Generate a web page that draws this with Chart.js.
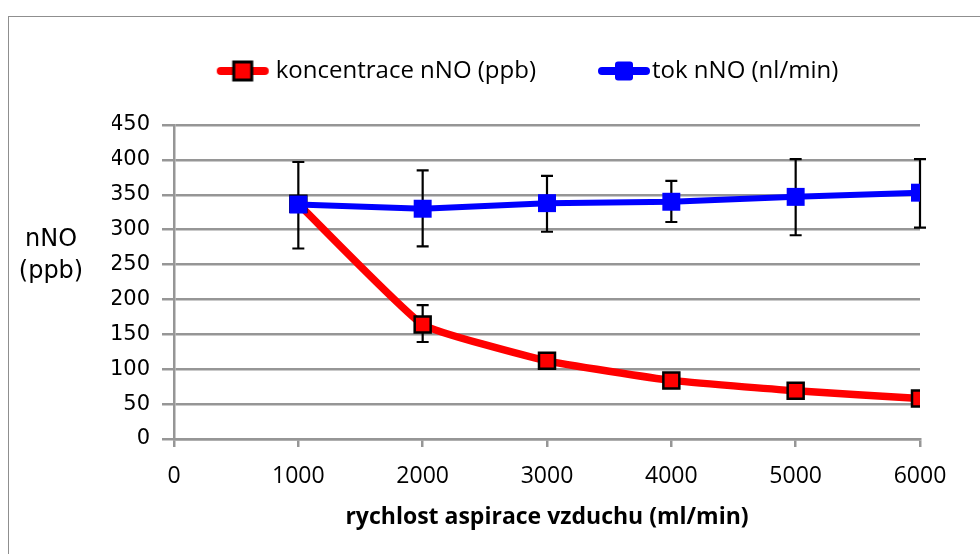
<!DOCTYPE html>
<html>
<head>
<meta charset="utf-8">
<title>nNO</title>
<script src="https://cdn.jsdelivr.net/npm/chart.js@4.4.1/dist/chart.umd.min.js"></script>
<style>
  html, body { margin: 0; padding: 0; background: #fff; }
  #wrap { position: relative; width: 980px; height: 554px; overflow: hidden; }
  #frame {
    position: absolute; left: 8px; top: 16px; width: 1000px; height: 600px;
    border-top: 1.5px solid #8f8f8f; border-left: 1.5px solid #8f8f8f;
  }
  #ytitle {
    position: absolute; left: 0; top: 222px; width: 102px;
    text-align: center; font: 24px "DejaVu Sans", sans-serif; line-height: 32px; color: #000;
  }
  canvas { position: absolute; left: 0; top: 0; }
</style>
</head>
<body>
<div id="wrap">
  <div id="frame"></div>
  <canvas id="chart" width="980" height="554"></canvas>
  <div id="ytitle">nNO<br>(ppb)</div>
</div>
<script>
  // air aspiration rate (ml/min)
  const X_VALUES = [1000, 2000, 3000, 4000, 5000, 6000];

  // koncentrace nNO (ppb)
  const KONC = [337, 164, 112, 84, 69, 58];
  const KONC_LOW = [null, 139, null, null, null, null];
  const KONC_HIGH = [null, 192, null, null, null, null];

  // tok nNO (nl/min)
  const TOK = [336, 330, 338, 340, 347, 353];
  const TOK_LOW = [273, 276, 297, 311, 292, 303];
  const TOK_HIGH = [397, 385, 377, 370, 401, 401];

  const LABELS = ['koncentrace nNO (ppb)', 'tok nNO (nl/min)'];
  const X_TITLE = 'rychlost aspirace vzduchu (ml/min)';

  const COLORS = {
    red: '#ff0000',
    blue: '#0000ff',
    grid: '#969696',
    err: '#000000',
  };

  // Excel-style legend key: line segment with the marker on it.
  // shift moves the drawing right inside the (wider) image
  function legendIcon(color, border, shift) {
    const c = document.createElement('canvas');
    c.width = 100; c.height = 24;
    const g = c.getContext('2d');
    const cx = 50 + shift;
    g.strokeStyle = color;
    g.lineWidth = 8;
    g.lineCap = 'round';
    g.beginPath(); g.moveTo(cx - 22, 12); g.lineTo(cx + 22, 12); g.stroke();
    g.fillStyle = color;
    if (border) {
      g.fillRect(cx - 9, 3, 18, 18);
      g.lineWidth = 3;
      g.strokeStyle = border;
      g.strokeRect(cx - 9, 3, 18, 18);
    } else {
      g.beginPath();
      g.roundRect(cx - 9, 2.5, 18, 19, 3);
      g.fill();
    }
    return c;
  }

  const errorBars = {
    id: 'errorBars',
    beforeDatasetsDraw(chart) {
      const { ctx, scales: { x, y } } = chart;
      ctx.save();
      ctx.strokeStyle = COLORS.err;
      ctx.lineWidth = 2.2;
      [[KONC_LOW, KONC_HIGH], [TOK_LOW, TOK_HIGH]].forEach(([low, high]) => {
        X_VALUES.forEach((xv, i) => {
          if (low[i] == null) return;
          const px = x.getPixelForValue(xv);
          const y1 = y.getPixelForValue(low[i]);
          const y2 = y.getPixelForValue(high[i]);
          ctx.beginPath();
          ctx.moveTo(px, y1); ctx.lineTo(px, y2);
          ctx.moveTo(px - 6, y1); ctx.lineTo(px + 6, y1);
          ctx.moveTo(px - 6, y2); ctx.lineTo(px + 6, y2);
          ctx.stroke();
        });
      });
      ctx.restore();
    }
  };

  // fixed legend height so the plot starts where the reference does
  const legendHeight = {
    id: 'legendHeight',
    beforeInit(chart) {
      const fit = chart.legend.fit;
      chart.legend.fit = function () {
        fit.call(this);
        this.height = 100;
      };
    }
  };

  const icons = [legendIcon(COLORS.red, '#000', 14), legendIcon(COLORS.blue, null, 19)];

  new Chart(document.getElementById('chart'), {
    type: 'line',
    data: {
      datasets: [
        {
          label: LABELS[0],
          data: X_VALUES.map((x, i) => ({ x, y: KONC[i] })),
          borderColor: COLORS.red,
          backgroundColor: COLORS.red,
          borderWidth: 7.5,
          pointStyle: 'rect',
          pointRadius: 11.3,
          pointBorderColor: '#000',
          pointBorderWidth: 2.5,
          pointBackgroundColor: COLORS.red,
          tension: 0.12,
          order: 1,
        },
        {
          label: LABELS[1],
          data: X_VALUES.map((x, i) => ({ x, y: TOK[i] })),
          borderColor: COLORS.blue,
          backgroundColor: COLORS.blue,
          borderWidth: 6,
          pointStyle: 'rect',
          pointRadius: 12.7,
          pointBorderWidth: 0,
          pointBackgroundColor: COLORS.blue,
          tension: 0,
          order: 0,
        },
      ],
    },
    options: {
      responsive: false,
      animation: false,
      events: [],
      // left padding only moves the legend; y axis width makes up the rest
      layout: { padding: { top: 25, left: 112, right: 60, bottom: 0 } },
      plugins: {
        legend: {
          position: 'top',
          labels: {
            usePointStyle: true,
            pointStyleWidth: 70,
            padding: 34,
            color: '#000',
            font: { family: '"Open Sans", sans-serif', size: 24 },
            generateLabels: () => LABELS.map((text, i) => ({
              text,
              pointStyle: icons[i],
              fillStyle: 'transparent',
              strokeStyle: 'transparent',
              lineWidth: 0,
              hidden: false,
              datasetIndex: i,
            })),
          },
        },
        tooltip: { enabled: false },
      },
      scales: {
        x: {
          type: 'linear',
          min: 0,
          max: 6000,
          afterFit: s => { s.height = 115; },
          grid: { drawOnChartArea: false, drawTicks: true, tickLength: 8, color: COLORS.grid, lineWidth: 2.5 },
          border: { display: true, color: COLORS.grid, width: 2.5 },
          ticks: {
            stepSize: 1000,
            padding: 16,
            color: '#000',
            font: { family: '"Open Sans", sans-serif', size: 23 },
            callback: v => String(v),
          },
          title: {
            display: true,
            text: X_TITLE,
            color: '#000',
            font: { family: '"Open Sans", sans-serif', size: 23, weight: 'bold' },
            padding: { top: 4, bottom: 23 },
          },
        },
        y: {
          min: 0,
          max: 450,
          afterFit: s => { s.width = 62; },
          grid: { color: COLORS.grid, lineWidth: 2.5, tickLength: 12 },
          border: { display: true, color: COLORS.grid, width: 2.5 },
          ticks: {
            stepSize: 50,
            padding: 12,
            color: '#000',
            font: { family: '"DejaVu Sans", sans-serif', size: 21 },
          },
        },
      },
    },
    plugins: [errorBars, legendHeight],
  });
</script>
</body>
</html>
